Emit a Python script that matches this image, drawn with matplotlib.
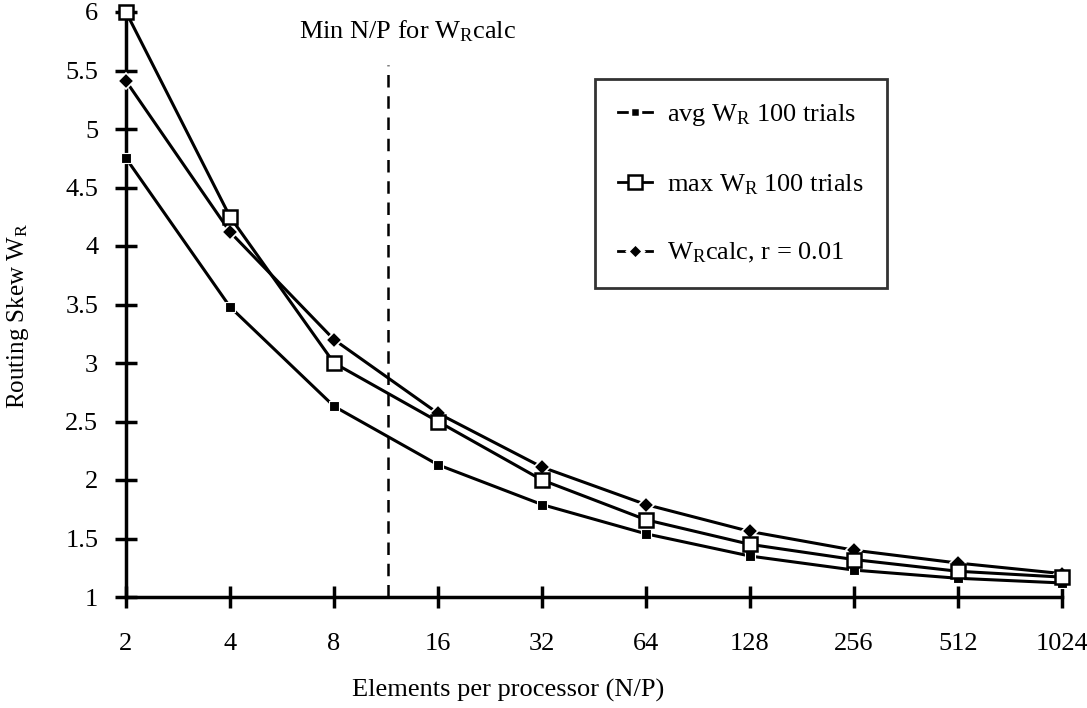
import matplotlib
matplotlib.use("Agg")
import matplotlib.pyplot as plt
from matplotlib.lines import Line2D

plt.rcParams['font.family'] = ['Liberation Serif', 'DejaVu Serif']
plt.rcParams['mathtext.fontset'] = 'custom'
plt.rcParams['mathtext.rm'] = 'Liberation Serif'
plt.rcParams['mathtext.it'] = 'Liberation Serif:italic'

# elements per processor (N/P)
n_per_p = [2, 4, 8, 16, 32, 64, 128, 256, 512, 1024]
tick_labels = [str(v) for v in n_per_p]

avg_wr = [4.75, 3.48, 2.63, 2.13, 1.79, 1.54, 1.35, 1.23, 1.16, 1.12]
max_wr = [6.0, 4.25, 3.0, 2.5, 2.0, 1.66, 1.45, 1.32, 1.22, 1.17]
calc_wr = [5.41, 4.12, 3.2, 2.57, 2.11, 1.79, 1.56, 1.40, 1.29, 1.20]

min_np = 11.5
y_ticks = [1, 1.5, 2, 2.5, 3, 3.5, 4, 4.5, 5, 5.5, 6]
y_tick_labels = ['1', '1.5', '2', '2.5', '3', '3.5', '4', '4.5', '5', '5.5', '6']

fs = 19

fig = plt.figure(figsize=(10.87, 7.08), dpi=100)
ax = fig.add_axes([126/1087, 1 - 597/708, (1062 - 126)/1087, (597 - 12)/708])

lw = 2.2
ax.plot(n_per_p, avg_wr, color='black', lw=lw, marker='s', ms=7.5,
        mfc='black', mec='white', mew=0.8, zorder=3, clip_on=False)
ax.plot(n_per_p, calc_wr, color='black', lw=lw, marker='D', ms=8,
        mfc='black', mec='white', mew=1.2, zorder=3, clip_on=False)
ax.plot(n_per_p, max_wr, color='black', lw=lw, marker='s', ms=9.5,
        mfc='white', mec='black', mew=1.8, zorder=4, clip_on=False)

ax.vlines(min_np, 1, 5.55, colors='black', lw=1.8, linestyles=(0, (5, 3.5)), zorder=2)
fig.text(408/1087, 1 - 31/708, 'Min N/P for W$_\\mathrm{R}$calc', ha='center', va='center', fontsize=fs)

ax.set_xscale('log', base=2)
ax.set_xlim(2, 1024)
ax.set_ylim(1, 6)
ax.set_xticks(n_per_p)
ax.set_xticklabels(tick_labels)
ax.minorticks_off()
ax.set_yticks(y_ticks)
ax.set_yticklabels(y_tick_labels)

for s in ['top', 'right']:
    ax.spines[s].set_visible(False)
for s in ['left', 'bottom']:
    ax.spines[s].set_linewidth(2.5)

ax.tick_params(axis='both', direction='inout', length=16, width=2.5, labelsize=fs)
ax.tick_params(axis='x', pad=18)
ax.tick_params(axis='y', pad=12)

fig.text(508/1087, 1 - 690/708, 'Elements per processor (N/P)', ha='center', va='center', fontsize=fs)
fig.text(18/1087, 1 - 316/708, 'Routing Skew W$_\\mathrm{R}$', ha='center', va='center',
         rotation=90, fontsize=18)

# legend handles: short solid stubs, white marker edges leave the small gaps
handles = [
    Line2D([], [], color='black', lw=2, marker='s', ms=7.5, mfc='black', mec='white', mew=2.5),
    Line2D([], [], color='black', lw=2, marker='s', ms=9.5, mfc='white', mec='black', mew=1.8),
    Line2D([], [], color='black', lw=2, marker='D', ms=8, mfc='black', mec='white', mew=2.5),
]
labels = ['avg W$_\\mathrm{R}$ 100 trials', 'max W$_\\mathrm{R}$ 100 trials', 'W$_\\mathrm{R}$calc, r = 0.01']
leg = ax.legend(handles, labels, loc='upper left', bbox_to_anchor=(595/1087, 1 - 79/708),
                bbox_transform=fig.transFigure, fontsize=fs, frameon=True, fancybox=False,
                edgecolor='black', borderpad=0.87, labelspacing=1.68, handlelength=1.29,
                handletextpad=0.57, borderaxespad=0)
leg.get_frame().set_linewidth(2)

fig.savefig('out.png', dpi=100)
